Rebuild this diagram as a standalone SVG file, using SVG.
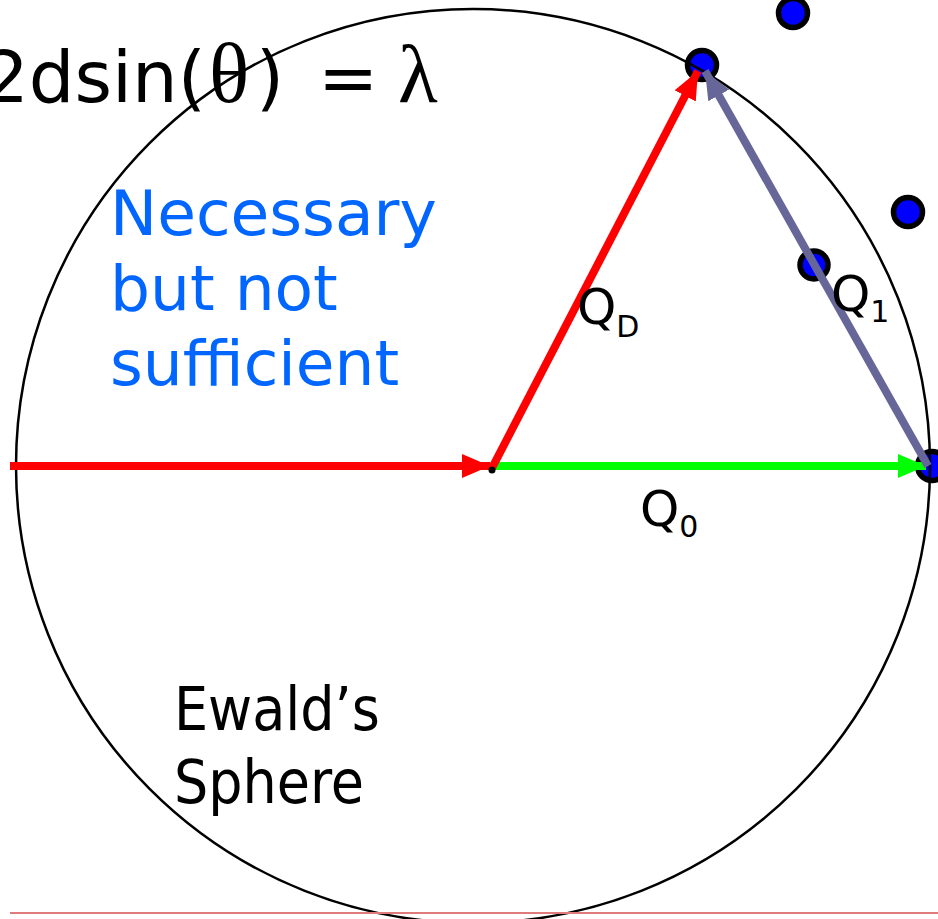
<svg xmlns="http://www.w3.org/2000/svg" width="938" height="919" viewBox="0 0 938 919">
<style>
.sans{font-family:"DejaVu Sans","Liberation Sans",sans-serif;}
.serif{font-family:"Liberation Serif","DejaVu Serif",serif;}
.dot{fill:#0000ff;stroke:#000;stroke-width:5.5;}
.q{font-size:50px;fill:#000;}
.sub{font-size:30px;}
</style>
<defs>
<marker id="ahRed" markerUnits="userSpaceOnUse" markerWidth="30" markerHeight="26" refX="28" refY="12" orient="auto"><path d="M0,0 L28,12 L0,24 Z" fill="#ff0000"/></marker>
<marker id="ahGreen" markerUnits="userSpaceOnUse" markerWidth="30" markerHeight="26" refX="28" refY="12" orient="auto"><path d="M0,0 L28,12 L0,24 Z" fill="#00ff00"/></marker>
<marker id="ahGray" markerUnits="userSpaceOnUse" markerWidth="30" markerHeight="26" refX="28" refY="12" orient="auto"><path d="M0,0 L28,12 L0,24 Z" fill="#666699"/></marker>
</defs>
<g id="points">
<circle class="dot" cx="793" cy="13" r="14.5"/>
<circle class="dot" cx="702" cy="65" r="14.5"/>
<circle class="dot" cx="908" cy="212" r="14.5"/>
<circle class="dot" cx="814" cy="265" r="14"/>
<circle class="dot" cx="932" cy="466" r="14.5"/>
</g>
<g id="ewald-sphere">
<circle cx="473" cy="466" r="457" fill="none" stroke="#000" stroke-width="2.5"/>
</g>
<line id="baseline" x1="10" y1="913" x2="938" y2="913" stroke="#e07b7b" stroke-width="2"/>
<g id="connectors" stroke-width="8" fill="none">
<line x1="10" y1="466" x2="490" y2="466" stroke="#ff0000" marker-end="url(#ahRed)"/>
<line x1="492" y1="466" x2="926" y2="466" stroke="#00ff00" marker-end="url(#ahGreen)"/>
<line x1="928" y1="466" x2="705" y2="71" stroke="#666699" marker-end="url(#ahGray)"/>
<line x1="492" y1="468" x2="698" y2="71" stroke="#ff0000" marker-end="url(#ahRed)"/>
</g>
<circle id="origin" cx="492" cy="470" r="3.5" fill="#000"/>
<g id="formula">
<text class="sans" font-size="72" y="102"><tspan x="-17">2dsin(</tspan><tspan class="serif" x="209" font-size="84">θ</tspan><tspan x="256">)</tspan><tspan x="318">=</tspan><tspan class="serif" x="398" font-size="82">λ</tspan></text>
</g>
<g id="note">
<text class="sans" font-size="63" fill="#0066ff"><tspan x="110" y="235">Necessary</tspan><tspan x="110" y="310">but not</tspan><tspan x="110" y="385">sufficient</tspan></text>
</g>
<g id="label-QD"><text class="sans q" x="577" y="324">Q<tspan class="sub" dy="13">D</tspan></text></g>
<g id="label-Q1"><text class="sans q" x="831" y="311">Q<tspan class="sub" dy="11">1</tspan></text></g>
<g id="label-Q0"><text class="sans q" x="640" y="526">Q<tspan class="sub" dy="11">0</tspan></text></g>
<g id="label-ewald">
<text font-family="'DejaVu Sans Condensed','DejaVu Sans',sans-serif" font-size="60" fill="#000"><tspan x="174" y="730">Ewald’s</tspan><tspan x="174" y="803">Sphere</tspan></text>
</g>
</svg>
